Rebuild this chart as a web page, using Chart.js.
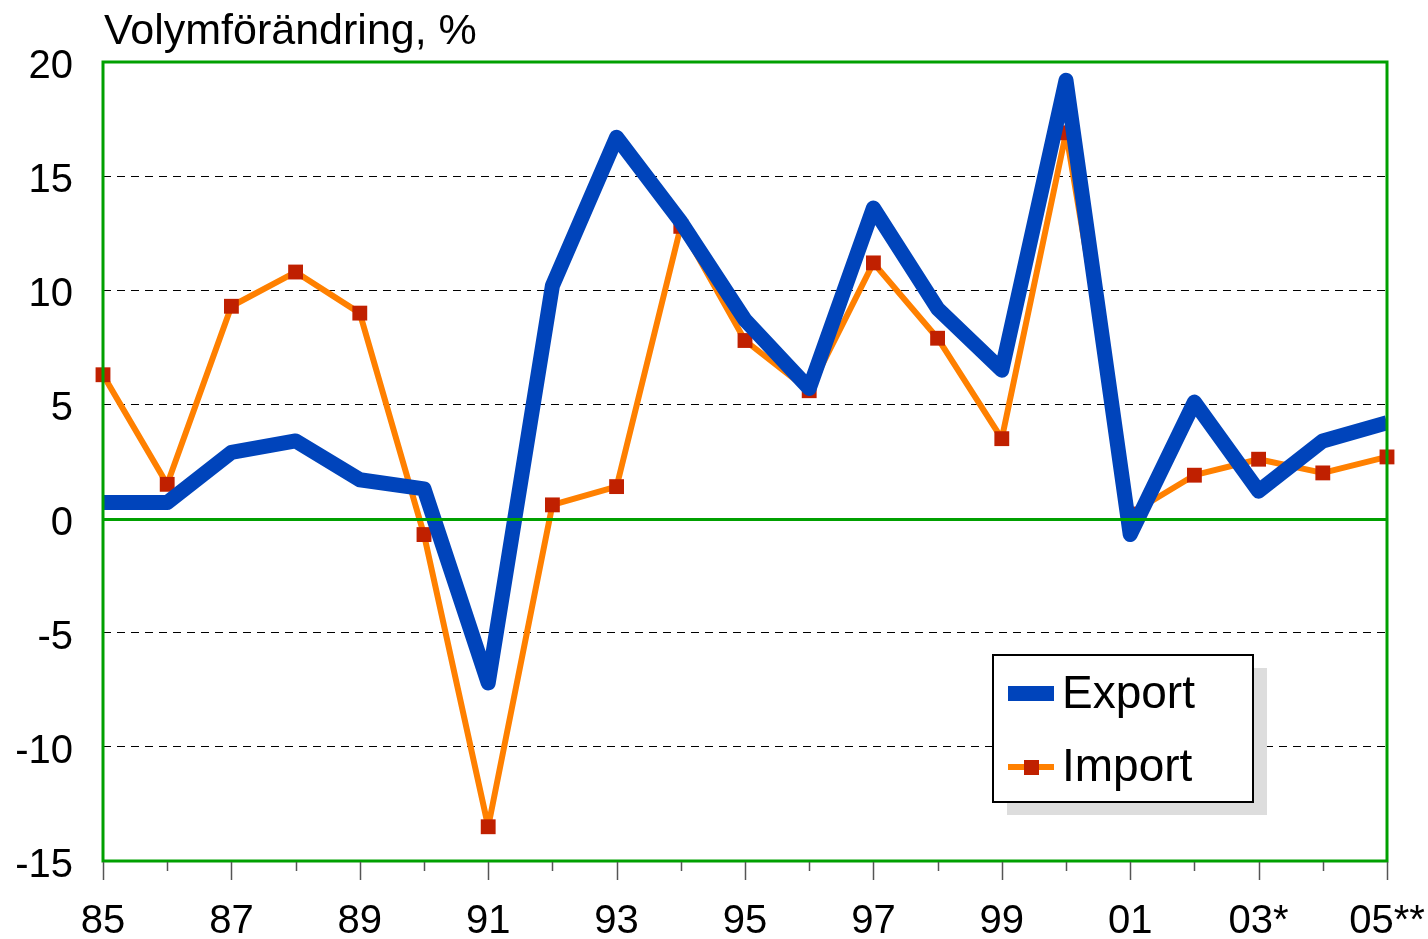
<!DOCTYPE html>
<html>
<head>
<meta charset="utf-8">
<script src="https://cdn.jsdelivr.net/npm/chart.js@4/dist/chart.umd.min.js"></script>
<style>
  html, body { margin: 0; padding: 0; background: #fff; }
  #wrap { width: 1428px; height: 939px; }
</style>
</head>
<body>
<div id="wrap"><canvas id="myChart" width="1428" height="939"></canvas></div>
<script>
// years 1985-2005
const years = ['85', '86', '87', '88', '89', '90', '91', '92', '93', '94', '95',
               '96', '97', '98', '99', '00', '01', '02', '03*', '04', '05**'];
// only every other year gets a label
const tickLabels = ['85', '', '87', '', '89', '', '91', '', '93', '', '95',
                    '', '97', '', '99', '', '01', '', '03*', '', '05**'];
const exportValues = [0.7, 0.7, 2.9, 3.4, 1.7, 1.3, -7.2, 10.2, 16.7, 13.0, 8.7,
                      5.7, 13.6, 9.2, 6.5, 19.2, -0.7, 5.1, 1.2, 3.4, 4.2];
const importValues = [6.3, 1.5, 9.3, 10.8, 9.0, -0.7, -13.5, 0.6, 1.4, 12.8, 7.8,
                      5.6, 11.2, 7.9, 3.5, 16.9, 0.2, 1.9, 2.6, 2.0, 2.7];
const yTitle = 'Volymförändring, %';

const BLUE = '#0044bb';
const ORANGE = '#ff8000';
const MARKER = '#c02000';
const GREEN = '#00a000';
const FONT = '"Liberation Sans", Arial, Helvetica, sans-serif';

// frame, zero line, x ticks, title and legend
const decorations = {
    id: 'decorations',
    afterDatasetsDraw(chart) {
        const ctx = chart.ctx;
        const area = chart.chartArea;
        const x = chart.scales.x;
        const y = chart.scales.y;
        ctx.save();

        // green zero line and frame, drawn over the lines
        ctx.strokeStyle = GREEN;
        ctx.lineWidth = 3;
        const y0 = Math.round(y.getPixelForValue(0)) + 0.5;
        ctx.beginPath();
        ctx.moveTo(area.left, y0);
        ctx.lineTo(area.right, y0);
        ctx.stroke();
        ctx.strokeRect(area.left, area.top, area.right - area.left, area.bottom - area.top);

        // tick marks under the x axis
        ctx.strokeStyle = '#555';
        ctx.lineWidth = 1.5;
        years.forEach((yr, i) => {
            const px = Math.round(x.getPixelForValue(i)) + 0.5;
            ctx.beginPath();
            ctx.moveTo(px, area.bottom + 1);
            ctx.lineTo(px, area.bottom + (i % 2 === 0 ? 19 : 10));
            ctx.stroke();
        });

        // axis title above the plot
        ctx.fillStyle = '#000';
        ctx.font = '43px ' + FONT;
        ctx.textAlign = 'left';
        ctx.textBaseline = 'alphabetic';
        ctx.fillText(yTitle, area.left + 1, 44);

        // legend box with shadow
        const lx = 993, ly = 655, lw = 260, lh = 147;
        ctx.fillStyle = '#dddddd';
        ctx.fillRect(lx + 14, ly + 13, lw, lh);
        ctx.fillStyle = '#fff';
        ctx.fillRect(lx, ly, lw, lh);
        ctx.strokeStyle = '#000';
        ctx.lineWidth = 2;
        ctx.strokeRect(lx, ly, lw, lh);

        ctx.fillStyle = BLUE;
        ctx.fillRect(lx + 15, 686, 46, 15);
        ctx.strokeStyle = ORANGE;
        ctx.lineWidth = 6;
        ctx.beginPath();
        ctx.moveTo(lx + 15, 767);
        ctx.lineTo(lx + 61, 767);
        ctx.stroke();
        ctx.fillStyle = MARKER;
        ctx.fillRect(lx + 31, 760, 15, 15);

        ctx.fillStyle = '#000';
        ctx.font = '46px ' + FONT;
        ctx.textBaseline = 'middle';
        ctx.fillText(datasetsLabel(chart, 0), lx + 69, 695);
        ctx.fillText(datasetsLabel(chart, 1), lx + 69, 768);
        ctx.restore();
    }
};

function datasetsLabel(chart, i) {
    return chart.data.datasets[i].label;
}

const ctx = document.getElementById('myChart').getContext('2d');
const myChart = new Chart(ctx, {
    type: 'line',
    data: {
        labels: years,
        datasets: [{
            label: 'Export',
            data: exportValues,
            borderColor: BLUE,
            backgroundColor: BLUE,
            borderWidth: 15,
            borderJoinStyle: 'round',
            borderCapStyle: 'butt',
            pointRadius: 0,
            pointHoverRadius: 0,
            tension: 0,
            clip: 0
        }, {
            label: 'Import',
            data: importValues,
            borderColor: ORANGE,
            backgroundColor: MARKER,
            borderWidth: 6,
            borderJoinStyle: 'round',
            pointStyle: 'rect',
            pointRadius: 10.5,
            pointBorderWidth: 0,
            pointBackgroundColor: MARKER,
            pointHoverRadius: 10.5,
            tension: 0,
            clip: false
        }]
    },
    options: {
        responsive: false,
        animation: false,
        layout: {
            padding: { top: 62, right: 41, left: 0, bottom: 0 }
        },
        plugins: {
            legend: { display: false },
            tooltip: { enabled: false },
            title: { display: false }
        },
        scales: {
            x: {
                offset: false,
                grid: { display: false },
                border: { display: false },
                afterFit: scale => {
                    scale.height = 78;
                    scale.paddingLeft = 0;
                    scale.paddingRight = 0;
                },
                ticks: {
                    autoSkip: false,
                    maxRotation: 0,
                    color: '#000',
                    padding: 29,
                    font: { family: FONT, size: 40 },
                    callback: (val, i) => tickLabels[i]
                }
            },
            y: {
                min: -15,
                max: 20,
                afterFit: scale => {
                    scale.width = 103;
                    scale.paddingTop = 0;
                    scale.paddingBottom = 0;
                },
                grid: {
                    drawTicks: false,
                    lineWidth: 1,
                    color: c => (c.tick && (c.tick.value === 0 || c.tick.value === 20 || c.tick.value === -15)) ? 'rgba(0,0,0,0)' : '#000'
                },
                border: { display: false, dash: [8, 6] },
                ticks: {
                    stepSize: 5,
                    color: '#000',
                    padding: 30,
                    labelOffset: 5,
                    font: { family: FONT, size: 40 }
                }
            }
        }
    },
    plugins: [decorations]
});
</script>
</body>
</html>
